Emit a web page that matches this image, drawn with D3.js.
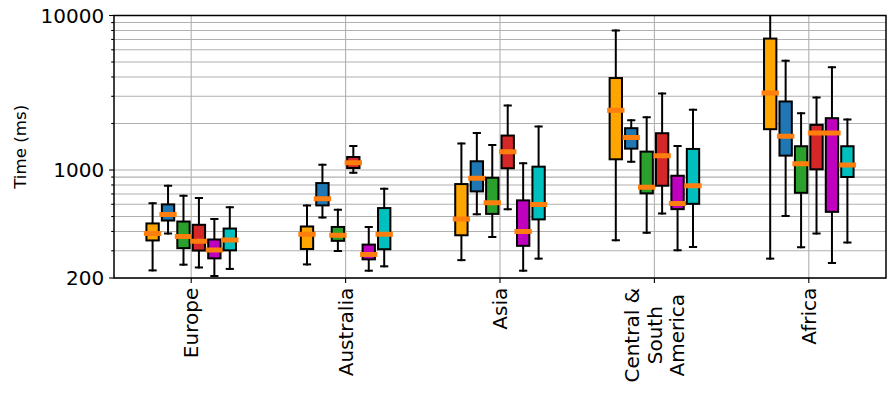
<!DOCTYPE html>
<html>
<head>
<meta charset="utf-8">
<script src="https://cdn.jsdelivr.net/npm/d3@7"></script>
<style>
  body { margin: 0; background: #fff; }
  svg { display: block; font-family: "DejaVu Sans", sans-serif; }
</style>
</head>
<body>
<div id="chart"></div>
<script>
// regions on the x axis (line breaks with \n)
const regions = ["Europe", "Australia", "Asia", "Central &\nSouth\nAmerica", "Africa"];

// each row: [whisker low, q1, median, q3, whisker high] per region
const orangeStats = [
  [224, 350, 388, 451, 610],
  [245, 308, 384, 431, 590],
  [261, 378, 481, 811, 1483],
  [351, 1173, 2440, 3937, 7990],
  [267, 1837, 3148, 7090, 10500]
];
const blueStats = [
  [388, 471, 516, 599, 791],
  [493, 590, 651, 823, 1083],
  [518, 727, 883, 1139, 1739],
  [1132, 1375, 1622, 1865, 2101],
  [503, 1239, 1654, 2777, 5100]
];
const greenStats = [
  [244, 312, 371, 464, 681],
  [299, 348, 378, 428, 553],
  [369, 520, 614, 891, 1453],
  [392, 706, 772, 1315, 2198],
  [316, 712, 1099, 1425, 2334]
];
const redStats = [
  [234, 301, 346, 442, 658],
  [961, 1030, 1116, 1214, 1432],
  [558, 1026, 1315, 1671, 2617],
  [523, 791, 1239, 1730, 3131],
  [388, 1010, 1739, 1959, 2949]
];
const magentaStats = [
  [206, 268, 304, 355, 481],
  [223, 264, 284, 329, 427],
  [223, 323, 400, 636, 1105],
  [302, 558, 608, 918, 1432],
  [250, 536, 1739, 2165, 4620]
];
const cyanStats = [
  [229, 302, 353, 418, 575],
  [238, 307, 384, 567, 756],
  [267, 479, 599, 1051, 1912],
  [318, 604, 791, 1369, 2453],
  [339, 901, 1078, 1425, 2122]
];

const series = [orangeStats, blueStats, greenStats, redStats, magentaStats, cyanStats];
const seriesColors = ["#ffa500", "#1f77b4", "#2ca02c", "#d62728", "#bf00bf", "#00bfbf"];

const yMajorTicks = [200, 1000, 10000];
const yMinorTicks = [300, 400, 500, 600, 700, 800, 900, 2000, 3000, 4000, 5000, 6000, 7000, 8000, 9000];

(function() {
  const width = 893, height = 393;
  const mLeft = 114, mRight = 886, mTop = 15.5, mBottom = 278;

  const svg = d3.select("#chart").append("svg")
    .attr("width", width)
    .attr("height", height);

  const x = d3.scaleLinear().domain([-0.5, 4.5]).range([mLeft, mRight]);
  const y = d3.scaleLog().domain([200, 10000]).range([mBottom, mTop]);

  const boxStep = 0.1, boxW = 0.08;
  const bw = x(boxW) - x(0);

  svg.append("clipPath").attr("id", "plot-clip")
    .append("rect")
    .attr("x", mLeft).attr("y", mTop)
    .attr("width", mRight - mLeft).attr("height", mBottom - mTop);

  // grid
  const grid = svg.append("g").attr("stroke", "#b0b0b0").attr("stroke-width", 1.1);
  grid.selectAll(".hg")
    .data(yMajorTicks.concat(yMinorTicks))
    .join("line")
    .attr("x1", mLeft).attr("x2", mRight)
    .attr("y1", d => y(d)).attr("y2", d => y(d));
  grid.selectAll(".vg")
    .data(regions)
    .join("line")
    .attr("x1", (d, i) => x(i)).attr("x2", (d, i) => x(i))
    .attr("y1", mTop).attr("y2", mBottom);

  // boxes
  const plot = svg.append("g").attr("clip-path", "url(#plot-clip)");

  series.forEach((stats, j) => {
    const off = (j - 2.5) * boxStep;
    stats.forEach((s, i) => {
      const cx = x(i + off);
      const [lo, q1, med, q3, hi] = s;
      const g = plot.append("g")
        .attr("stroke", "#000")
        .attr("stroke-width", 2)
        .attr("stroke-linecap", "square");

      // whiskers
      g.append("line").attr("x1", cx).attr("x2", cx).attr("y1", y(q1)).attr("y2", y(lo));
      g.append("line").attr("x1", cx).attr("x2", cx).attr("y1", y(q3)).attr("y2", y(hi));
      // caps
      g.append("line").attr("x1", cx - bw / 4).attr("x2", cx + bw / 4).attr("y1", y(lo)).attr("y2", y(lo));
      g.append("line").attr("x1", cx - bw / 4).attr("x2", cx + bw / 4).attr("y1", y(hi)).attr("y2", y(hi));

      g.append("rect")
        .attr("x", cx - bw / 2)
        .attr("y", y(q3))
        .attr("width", bw)
        .attr("height", y(q1) - y(q3))
        .attr("fill", seriesColors[j]);

      g.append("line")
        .attr("x1", cx - bw / 2).attr("x2", cx + bw / 2)
        .attr("y1", y(med)).attr("y2", y(med))
        .attr("stroke", "#ff7f0e")
        .attr("stroke-width", 5);
    });
  });

  // ticks
  const axes = svg.append("g").attr("stroke", "#000").attr("stroke-width", 1.1);
  axes.selectAll(".ymaj")
    .data(yMajorTicks)
    .join("line")
    .attr("x1", mLeft - 4.9).attr("x2", mLeft)
    .attr("y1", d => y(d)).attr("y2", d => y(d));
  axes.selectAll(".ymin")
    .data(yMinorTicks)
    .join("line")
    .attr("x1", mLeft - 2.8).attr("x2", mLeft)
    .attr("y1", d => y(d)).attr("y2", d => y(d));
  axes.selectAll(".xt")
    .data(regions)
    .join("line")
    .attr("x1", (d, i) => x(i)).attr("x2", (d, i) => x(i))
    .attr("y1", mBottom).attr("y2", mBottom + 4.9);

  // frame
  svg.append("rect")
    .attr("x", mLeft).attr("y", mTop)
    .attr("width", mRight - mLeft).attr("height", mBottom - mTop)
    .attr("fill", "none")
    .attr("stroke", "#000")
    .attr("stroke-width", 1.5);

  // y tick labels
  svg.selectAll(".ylab")
    .data(yMajorTicks)
    .join("text")
    .attr("x", mLeft - 9.8)
    .attr("y", d => y(d))
    .attr("dy", "0.36em")
    .attr("text-anchor", "end")
    .attr("font-size", 20)
    .attr("fill", "#000")
    .text(d => d);

  // x tick labels, rotated, multi-line centred
  const fs = 20, lineH = 22.7;
  const labTop = mBottom + 9.8;
  regions.forEach((name, i) => {
    const lines = name.split("\n");
    const t = svg.append("text")
      .attr("font-size", fs)
      .attr("fill", "#000")
      .attr("text-anchor", "middle");
    lines.forEach(l => t.append("tspan").text(l));
    let maxW = 0;
    t.selectAll("tspan").each(function() { maxW = Math.max(maxW, this.getComputedTextLength()); });
    const n = lines.length;
    t.attr("transform", `translate(${x(i)},${labTop + maxW / 2}) rotate(-90)`);
    t.selectAll("tspan")
      .attr("x", 0)
      .attr("y", (d, k) => (k - (n - 1) / 2) * lineH)
      .attr("dy", "0.36em");
  });

  // y axis title
  svg.append("text")
    .attr("transform", `translate(20,${(mTop + mBottom) / 2}) rotate(-90)`)
    .attr("text-anchor", "middle")
    .attr("dy", "0.36em")
    .attr("font-size", 16.7)
    .attr("fill", "#000")
    .text("Time (ms)");
})();
</script>
</body>
</html>
